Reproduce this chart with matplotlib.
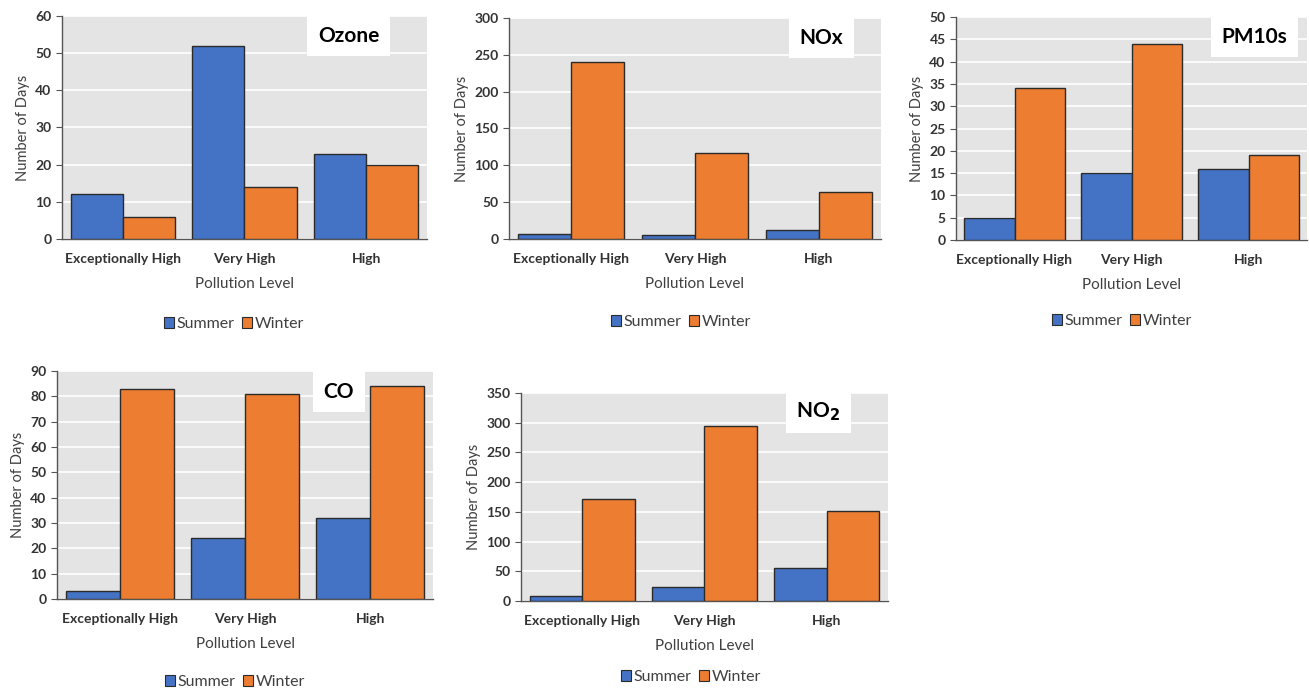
import matplotlib
matplotlib.use("Agg")
import matplotlib.pyplot as plt
from matplotlib.patches import Patch
import numpy as np

plt.rcParams["font.family"] = ["Lato", "DejaVu Sans"]

LEVELS = ["Exceptionally High", "Very High", "High"]
SEASONS = ["Summer", "Winter"]

OZONE_SUMMER = [12, 52, 23]
OZONE_WINTER = [6, 14, 20]
NOX_SUMMER = [7, 6, 12]
NOX_WINTER = [240, 117, 64]
PM10_SUMMER = [5, 15, 16]
PM10_WINTER = [34, 44, 19]
CO_SUMMER = [3, 24, 32]
CO_WINTER = [83, 81, 84]
NO2_SUMMER = [8, 23, 55]
NO2_WINTER = [171, 295, 151]

BLUE = "#4472C4"
ORANGE = "#ED7D31"
BG = "#E4E4E4"
SPINE = "#555555"

W, H = 1309, 691

# (title, summer, winter, ymax, ystep, [left, right, top, bottom] px, title x frac, legend (x, y) px)
PANELS = [
    ("Ozone", OZONE_SUMMER, OZONE_WINTER, 60, 10, [62, 427, 16, 239], 0.785, (234, 324)),
    ("NOx", NOX_SUMMER, NOX_WINTER, 300, 50, [509, 881, 18, 239], 0.84, (681, 322)),
    ("PM10s", PM10_SUMMER, PM10_WINTER, 50, 5, [956, 1307, 17, 240], 0.85, (1122, 321)),
    ("CO", CO_SUMMER, CO_WINTER, 90, 10, [57, 433, 371, 599], 0.75, (235, 682)),
    ("NO$_\\mathbf{2}$", NO2_SUMMER, NO2_WINTER, 350, 50, [521, 888, 393, 601], 0.81, (691, 677)),
]


def draw_panel(fig, title, summer, winter, ymax, ystep, box, tx, leg):
    l, r, t, b = box
    ax = fig.add_axes([l / W, 1 - b / H, (r - l) / W, (b - t) / H])
    ax.set_facecolor(BG)
    x = np.arange(len(LEVELS))
    bw = 0.43
    ax.bar(x - bw / 2, summer, bw, color=BLUE, edgecolor="#2b2b2b", linewidth=1.0, zorder=3)
    ax.bar(x + bw / 2, winter, bw, color=ORANGE, edgecolor="#2b2b2b", linewidth=1.0, zorder=3)
    ax.set_xlim(-0.5, len(LEVELS) - 0.5)
    ax.set_ylim(0, ymax)
    ax.set_yticks(np.arange(0, ymax + 1, ystep))
    ax.yaxis.grid(True, color="white", linewidth=1.2, zorder=0)
    ax.set_axisbelow(True)
    for s in ["top", "right"]:
        ax.spines[s].set_visible(False)
    for s in ["left", "bottom"]:
        ax.spines[s].set_color(SPINE)
        ax.spines[s].set_linewidth(1.0)
    ax.set_xticks(x)
    ax.set_xticklabels(LEVELS, fontweight="bold", fontsize=10, color="#333333")
    ax.tick_params(axis="x", length=0, pad=10)
    ax.tick_params(axis="y", length=4, color=SPINE, labelsize=10, labelcolor="#333333")
    for lab in ax.get_yticklabels():
        lab.set_fontweight("bold")
    ax.set_xlabel("Pollution Level", fontsize=11, color="#404040", labelpad=9)
    ax.set_ylabel("Number of Days", fontsize=10.5, color="#404040", labelpad=4)
    ax.text(tx, 0.91, title, transform=ax.transAxes, ha="center", va="center",
            fontsize=15, fontweight="bold", color="black", zorder=5,
            bbox=dict(boxstyle="square,pad=0.5", facecolor="white", edgecolor="none"))
    handles = [Patch(facecolor=BLUE, edgecolor="#2b2b2b", linewidth=0.8),
               Patch(facecolor=ORANGE, edgecolor="#2b2b2b", linewidth=0.8)]
    fig.legend(handles, SEASONS, loc="center", bbox_to_anchor=(leg[0] / W, 1 - leg[1] / H),
               ncol=2, frameon=False, fontsize=11.5, handlelength=0.62, handleheight=0.62,
               handletextpad=0.2, columnspacing=0.45, labelcolor="#404040")
    return ax


def main():
    fig = plt.figure(figsize=(W / 100, H / 100), dpi=100)
    for p in PANELS:
        draw_panel(fig, *p)
    fig.savefig("out.png", dpi=100)


if __name__ == "__main__":
    main()
